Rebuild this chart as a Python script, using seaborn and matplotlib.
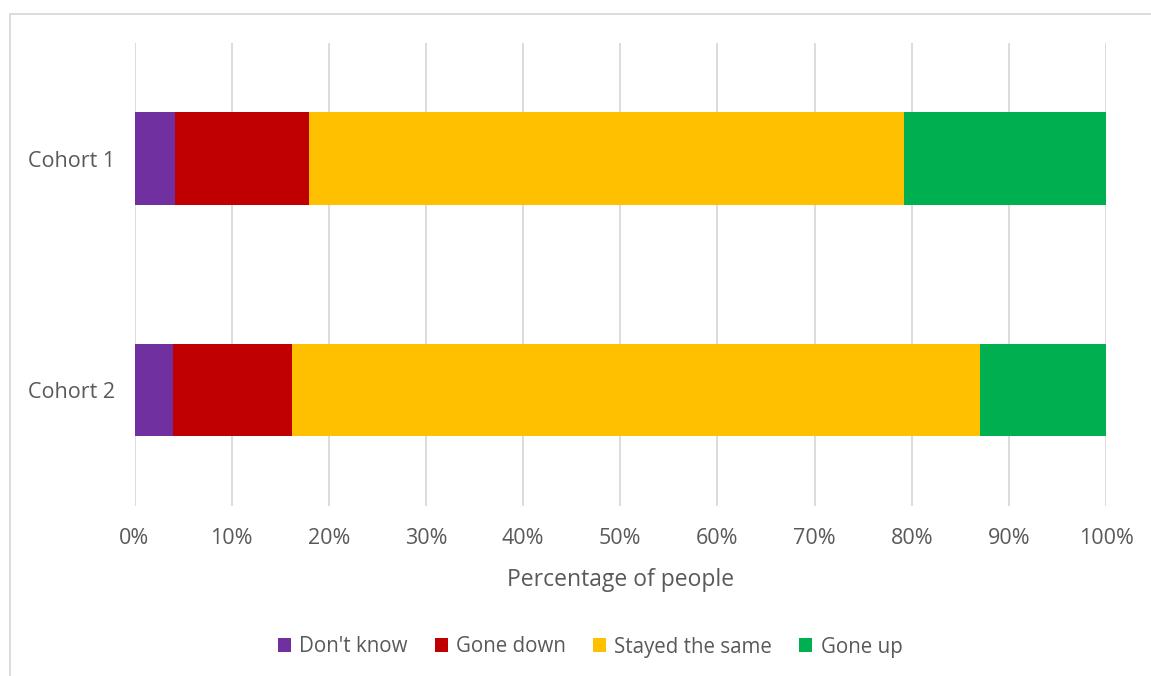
import matplotlib
matplotlib.use("Agg")
import matplotlib.pyplot as plt
import matplotlib.patches as mpatches
from matplotlib.ticker import PercentFormatter
import seaborn as sns
import pandas as pd
import numpy as np

cohorts = ["Cohort 1", "Cohort 2"]
categories = ["Don't know", "Gone down", "Stayed the same", "Gone up"]
dont_know = [4.2, 4.0]
gone_down = [13.8, 12.2]
stayed_same = [61.2, 70.8]
gone_up = [20.8, 13.0]
colors = ["#7030A0", "#C00000", "#FFC000", "#00B050"]
x_ticks = list(range(0, 101, 10))

sns.set_theme(style="white")
plt.rcParams["font.family"] = ["Open Sans", "DejaVu Sans"]
text_color = "#595959"
grid_color = "#D9D9D9"

series = [dont_know, gone_down, stayed_same, gone_up]
cum = np.cumsum(np.array(series), axis=0)

fig = plt.figure(figsize=(11.51, 6.76), dpi=100)
W, H = 1151, 676
ax = fig.add_axes([134.5 / W, 1 - 505.7 / H, (1106 - 134.5) / W, (505.7 - 43) / H])

# draw from the longest cumulative to the shortest so earlier segments sit on top
for i in reversed(range(len(categories))):
    df = pd.DataFrame({"cohort": cohorts, "value": cum[i]})
    sns.barplot(data=df, y="cohort", x="value", orient="h", color=colors[i],
                width=0.4, saturation=1, ax=ax, zorder=3, linewidth=0)

ax.set_xlim(0, 100)
ax.set_ylim(1.5, -0.5)
ax.set_xticks(x_ticks)
ax.xaxis.set_major_formatter(PercentFormatter(100, decimals=0))
ax.grid(axis="x", color=grid_color, linewidth=1.3, zorder=0)
ax.grid(axis="y", visible=False)
for s in ax.spines.values():
    s.set_visible(False)
ax.tick_params(axis="both", length=0, labelsize=15.5, colors=text_color)
ax.tick_params(axis="x", pad=16)
ax.tick_params(axis="y", pad=14)
ax.set_ylabel("")
ax.set_xlabel("Percentage of people", fontsize=16.5, color=text_color, labelpad=14)

handles = [mpatches.Patch(facecolor=c, edgecolor="none", label=l) for c, l in zip(colors, categories)]
fig.legend(handles=handles, loc="center", bbox_to_anchor=(590 / W, 1 - 647 / H), ncol=4,
           frameon=False, fontsize=14.8, labelcolor=text_color, handlelength=0.65,
           handleheight=0.65, handletextpad=0.4, columnspacing=1.3)

# chart-area border
fig.add_artist(mpatches.Rectangle((10 / W, -0.1), 1.2, 1 - 14 / H + 0.1,
                                  transform=fig.transFigure, fill=False,
                                  edgecolor=grid_color, linewidth=1.3))

fig.savefig("out.png", dpi=100, facecolor="white")
